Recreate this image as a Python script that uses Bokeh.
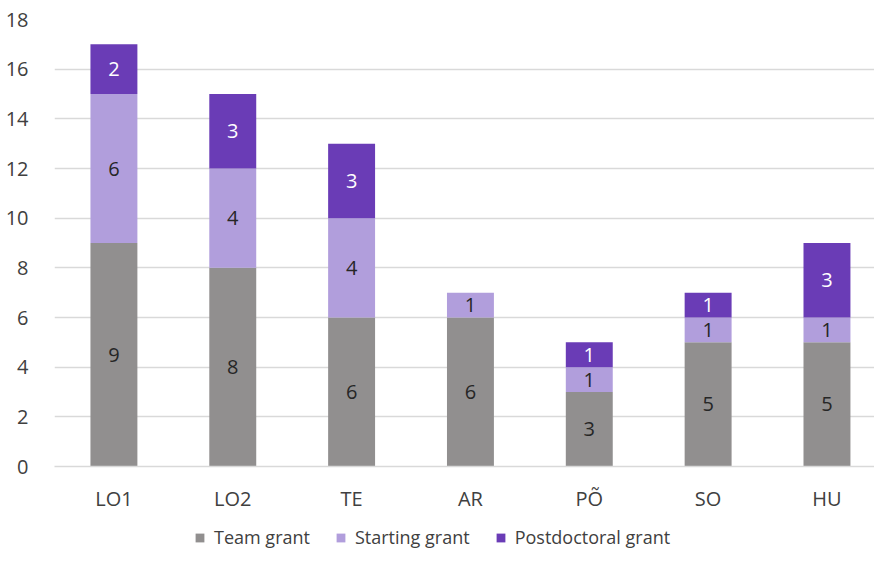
from bokeh.plotting import figure
from bokeh.layouts import column
from bokeh.models import ColumnDataSource, FixedTicker, Legend, LegendItem, Range1d
from bokeh.core.properties import value
from bokeh.embed import file_html
from bokeh.resources import INLINE

categories = ["LO1", "LO2", "TE", "AR", "PÕ", "SO", "HU"]
team_grant = [9, 8, 6, 6, 3, 5, 5]
starting_grant = [6, 4, 4, 1, 1, 1, 1]
postdoc_grant = [2, 3, 3, 0, 1, 1, 3]
series_names = ["Team grant", "Starting grant", "Postdoctoral grant"]
colors = ["#918f8f", "#b19edc", "#6a3cb6"]
y_ticks = [0, 2, 4, 6, 8, 10, 12, 14, 16, 18]

FONT = "Open Sans"
xs = list(range(len(categories)))

src = ColumnDataSource(dict(x=xs, team=team_grant, start=starting_grant, post=postdoc_grant))

p = figure(width=874, height=514, output_backend="svg", toolbar_location=None,
           x_range=Range1d(-0.5, 6.4), y_range=Range1d(0, 18),
           min_border_left=54, min_border_right=0, min_border_top=19, min_border_bottom=48)
p.outline_line_color = None
p.background_fill_color = "white"
p.border_fill_color = "white"

renderers = p.vbar_stack(["team", "start", "post"], x="x", width=0.395, source=src,
                         color=colors, line_color=None)

# labels
for vals, base_list, tcolor in [
    (team_grant, [0]*7, "#262626"),
    (starting_grant, team_grant, "#262626"),
    (postdoc_grant, [a + b for a, b in zip(team_grant, starting_grant)], "#ffffff"),
]:
    lx, ly, lt = [], [], []
    for i, (v, b) in enumerate(zip(vals, base_list)):
        if v > 0:
            lx.append(i)
            ly.append(b + v / 2)
            lt.append(str(v))
    p.text(x=lx, y=ly, text=lt, text_align="center", text_baseline="middle",
           text_font=value(FONT), text_font_size="20px", text_color=tcolor)

p.xgrid.grid_line_color = None
p.ygrid.grid_line_color = "#d9d9d9"
p.ygrid.grid_line_width = 1.4
p.ygrid.ticker = FixedTicker(ticks=y_ticks)

p.yaxis.ticker = FixedTicker(ticks=y_ticks)
p.yaxis.axis_line_color = None
p.yaxis.major_tick_line_color = None
p.yaxis.minor_tick_line_color = None
p.yaxis.major_label_standoff = 20
p.yaxis.major_label_text_font = FONT
p.yaxis.major_label_text_font_size = "20px"
p.yaxis.major_label_text_color = "#404040"

p.xaxis.ticker = FixedTicker(ticks=xs)
p.xaxis.major_label_overrides = {i: c for i, c in enumerate(categories)}
p.xaxis.axis_line_color = "#d9d9d9"
p.xaxis.axis_line_width = 1.4
p.xaxis.major_tick_line_color = None
p.xaxis.minor_tick_line_color = None
p.xaxis.major_label_standoff = 12
p.xaxis.major_label_text_font = FONT
p.xaxis.major_label_text_font_size = "20px"
p.xaxis.major_label_text_color = "#404040"

# legend strip (hidden proxy bars provide the legend swatches)
lg = figure(width=874, height=47, output_backend="svg", toolbar_location=None,
            x_range=Range1d(-0.5, 6.4), y_range=Range1d(0, 18),
            min_border_left=0, min_border_right=0, min_border_top=0, min_border_bottom=0)
lg.outline_line_color = None
lg.axis.visible = False
lg.grid.grid_line_color = None
proxies = [lg.vbar(x=xs, top=vals, width=0.395, color=c, line_color=None, visible=False)
           for vals, c in zip([team_grant, starting_grant, postdoc_grant], colors)]

legend = Legend(items=[LegendItem(label=n, renderers=[r]) for n, r in zip(series_names, proxies)],
                orientation="horizontal", location=(140, 12),
                glyph_width=11, glyph_height=11, spacing=25, label_standoff=9,
                label_height=20, inactive_fill_alpha=0,
                label_text_font=FONT, label_text_font_size="18px", label_text_color="#404040",
                border_line_color=None, background_fill_alpha=0, margin=0, padding=0)
lg.add_layout(legend, "center")

layout = column(p, lg, spacing=0)
open("out.html", "w").write(file_html(layout, INLINE))
